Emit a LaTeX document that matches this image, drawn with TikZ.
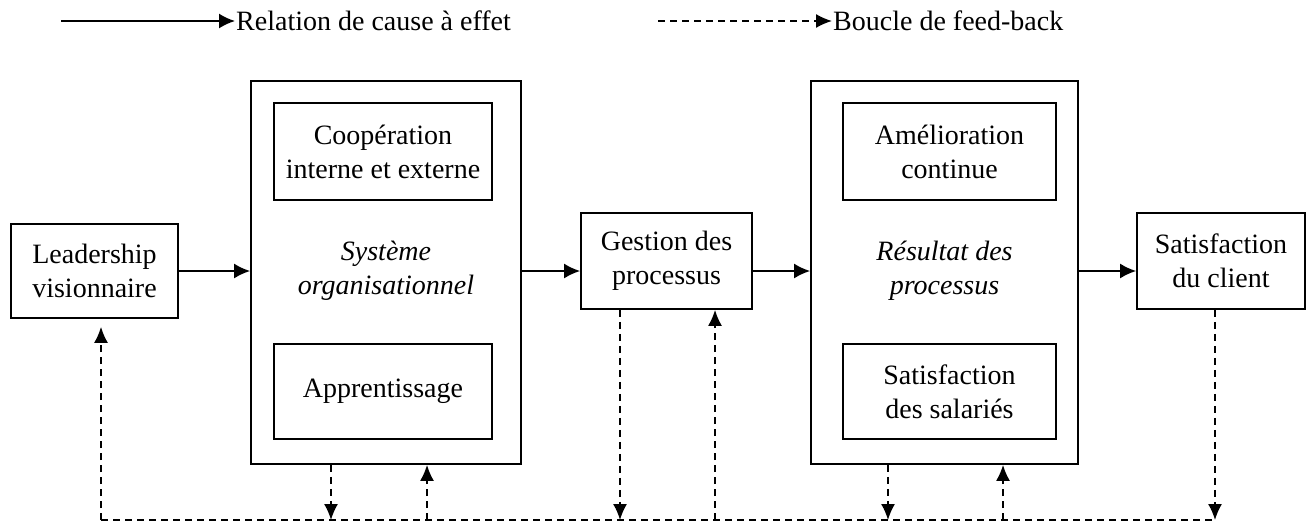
\documentclass[tikz,border=0pt]{standalone}
\usepackage{fontspec}
\setmainfont{Liberation Serif}
\usetikzlibrary{arrows.meta}
\begin{document}
\begin{tikzpicture}[x=1pt,y=-1pt,
  font=\fontsize{28}{34}\selectfont,
  box/.style={draw, line width=1.8pt, inner sep=0pt, align=center},
  lbl/.style={inner sep=0pt, align=center, font=\fontsize{28}{34}\selectfont\itshape},
  arr/.style={line width=1.8pt, -{Latex[length=16pt,width=15pt]}},
  fb/.style={line width=1.6pt, dash pattern=on 7pt off 5pt},
  fbarr/.style={fb, -{Latex[length=16pt,width=14pt]}}]
\useasboundingbox (0,0) rectangle (1311,522);

% legend
\coordinate (ls1) at (61,21);
\coordinate (ls2) at (235,21);
\draw[arr] (ls1) -- (ls2);
\node[anchor=base west, inner sep=0pt] (lt1) at (236,30) {Relation de cause à effet};
\coordinate (ld1) at (658,21);
\coordinate (ld2) at (832,21);
\draw[fbarr] (ld1) -- (ld2);
\node[anchor=base west, inner sep=0pt] (lt2) at (833,30) {Boucle de feed-back};

% boxes
\node[box, minimum width=167pt, minimum height=94pt] (lead) at (94.5,271) {Leadership\\visionnaire};
\node[box, minimum width=270pt, minimum height=383pt] (sys) at (386,272.5) {};
\node[box, minimum width=218pt, minimum height=97pt] (coop) at (383,151.5) {Coopération\\interne et externe};
\node[box, minimum width=218pt, minimum height=95pt] (app) at (383,391.5) {Apprentissage};
\node[lbl] (sysl) at (386,271) {Système\\organisationnel};
\node[box, minimum width=171pt, minimum height=96pt] (ges) at (666.5,261) {Gestion des\\processus};
\node[box, minimum width=267pt, minimum height=383pt] (res) at (944.5,272.5) {};
\node[box, minimum width=213pt, minimum height=97pt] (amel) at (949.5,151.5) {Amélioration\\continue};
\node[box, minimum width=213pt, minimum height=95pt] (sal) at (949.5,391.5) {Satisfaction\\des salariés};
\node[lbl] (resl) at (944.5,271) {Résultat des\\processus};
\node[box, minimum width=168pt, minimum height=96pt] (cli) at (1221,261) {Satisfaction\\du client};

% cause-effect arrows
\draw[arr] (lead.east) -- (sys.west |- lead);
\draw[arr] (sys.east |- lead) -- (ges.west |- lead);
\draw[arr] (ges.east |- lead) -- (res.west |- lead);
\draw[arr] (res.east |- lead) -- (cli.west |- lead);

% feedback loop
\coordinate (f0) at (101,520);
\coordinate (f1) at (331,520);
\coordinate (f2) at (427,520);
\coordinate (f3) at (620,520);
\coordinate (f4) at (715,520);
\coordinate (f5) at (888,520);
\coordinate (f6) at (1003,520);
\coordinate (f7) at (1215,520);
\draw[fb] (f0) -- (f7);
\draw[fbarr] (f0) -- ([yshift=-8pt]f0 |- lead.south);
\draw[fbarr] (f1 |- sys.south) -- (f1);
\draw[fbarr] (f2) -- (f2 |- sys.south);
\draw[fbarr] (f3 |- ges.south) -- (f3);
\draw[fbarr] (f4) -- (f4 |- ges.south);
\draw[fbarr] (f5 |- res.south) -- (f5);
\draw[fbarr] (f6) -- (f6 |- res.south);
\draw[fbarr] (f7 |- cli.south) -- (f7);
\end{tikzpicture}
\end{document}
